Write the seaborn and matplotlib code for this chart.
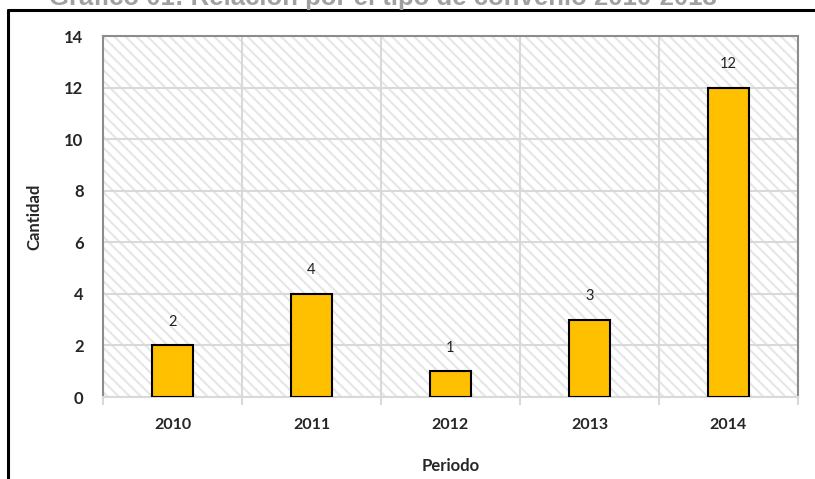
import matplotlib
matplotlib.use("Agg")
import matplotlib.pyplot as plt
import seaborn as sns
import pandas as pd
from matplotlib.patches import Rectangle
from matplotlib.lines import Line2D

periodos = ["2010", "2011", "2012", "2013", "2014"]
cantidad = [2, 4, 1, 3, 12]
yticks = [0, 2, 4, 6, 8, 10, 12, 14]
title = "Gráfico 01: Relación por el tipo de convenio 2010-2013"

sns.set_theme(style="white")
plt.rcParams["font.family"] = ["Lato", "DejaVu Sans"]
plt.rcParams["hatch.linewidth"] = 1.5
plt.rcParams["hatch.color"] = "#e6e6e6"

df = pd.DataFrame({"Periodo": periodos, "Cantidad": cantidad})

W, H = 815, 479
fig = plt.figure(figsize=(W / 100, H / 100), dpi=100)
L, R, T, B = 103, 798, 36, 397
ax = fig.add_axes([L / W, 1 - B / H, (R - L) / W, (B - T) / H])

# hatched background
bg = Rectangle((0, 0), 1, 1, transform=ax.transAxes, facecolor="white",
               edgecolor="#e6e6e6", linewidth=0, hatch="\\\\\\", zorder=0)
ax.add_patch(bg)

sns.barplot(data=df, x="Periodo", y="Cantidad", color="#FFC000", width=0.29,
            edgecolor="black", linewidth=1.5, saturation=1, ax=ax, zorder=3)

for c in ax.containers:
    ax.bar_label(c, labels=[str(v) for v in cantidad], padding=12,
                 fontsize=10.5, color="#222222")

ax.set_ylim(0, 14)
ax.set_xlim(-0.5, 4.5)
ax.set_yticks(yticks)
ax.set_yticklabels([str(v) for v in yticks], fontsize=12, fontweight="bold")
ax.set_xticks(range(len(periodos)))
ax.set_xticklabels(periodos, fontsize=11.5, fontweight="bold")
ax.set_xticks([i - 0.5 for i in range(len(periodos) + 1)], minor=True)
ax.tick_params(axis="y", length=0, pad=14)
ax.tick_params(axis="x", which="major", length=0, pad=15)
ax.tick_params(axis="x", which="minor", length=6, width=1.5, color="#d9d9d9",
               direction="out", bottom=True)

ax.grid(axis="y", which="major", color="#d9d9d9", linewidth=1.5, zorder=1)
ax.grid(axis="x", which="minor", color="#d9d9d9", linewidth=1.5, zorder=1)
ax.grid(axis="x", which="major", visible=False)
ax.set_axisbelow(True)

for s in ["left", "top", "right"]:
    ax.spines[s].set_color("#8c8c8c")
    ax.spines[s].set_linewidth(1.5)
ax.spines["bottom"].set_color("#d9d9d9")
ax.spines["bottom"].set_linewidth(1.5)

ax.set_xlabel("Periodo", fontsize=12, fontweight="bold", labelpad=19)
ax.set_ylabel("Cantidad", fontsize=12, fontweight="bold", labelpad=16)

# cut-off title and frame (as in the reference)
fig.text(383 / W, 1 - 5 / H, title, ha="center", va="baseline", fontsize=18.5,
         fontweight="bold", color="#a0a0a0", family=["Liberation Sans", "DejaVu Sans"])
fig.add_artist(Line2D([8 / W, 1], [1 - 10 / H, 1 - 10 / H], transform=fig.transFigure,
                      color="black", linewidth=2.2))
fig.add_artist(Line2D([8 / W, 8 / W], [1 - 10 / H, 0], transform=fig.transFigure,
                      color="black", linewidth=2.2))

fig.savefig("out.png", dpi=100)
